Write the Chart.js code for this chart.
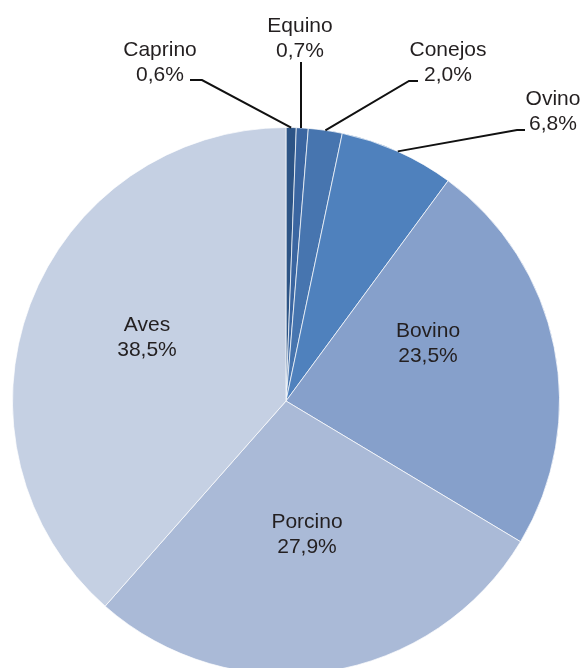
<!DOCTYPE html>
<html>
<head>
<meta charset="utf-8">
<script src="https://cdn.jsdelivr.net/npm/chart.js@4/dist/chart.umd.min.js"></script>
<style>
  html, body { margin: 0; padding: 0; background: #fff; overflow: hidden; }
  canvas { display: block; }
</style>
</head>
<body>
<canvas id="grafico" width="583" height="700"></canvas>
<script>
// datos (porcentaje por especie)
const especies = ['Caprino', 'Equino', 'Conejos', 'Ovino', 'Bovino', 'Porcino', 'Aves'];
const porcentajes = [0.6, 0.7, 2.0, 6.8, 23.5, 27.9, 38.5];
const etiquetas = ['0,6%', '0,7%', '2,0%', '6,8%', '23,5%', '27,9%', '38,5%'];

const colores = ['#2d5486', '#3b66a1', '#4775af', '#4f81bd', '#86a0cb', '#aabad7', '#c5d0e3'];

// posición de los textos respecto al centro del pastel (línea base del primer renglón)
// y recodo de la línea guía para las porciones pequeñas
const posEtiquetas = [
  { dx: -126, dy: -345, codo: [-84, -321], fin: [-96, -321] },
  { dx: 14, dy: -369, codo: [15, -339], fin: [15, -339], vertical: true },
  { dx: 162, dy: -345, codo: [123, -320], fin: [132, -320] },
  { dx: 267, dy: -296, codo: [231, -271], fin: [239, -271] },
  { dx: 142, dy: -64 },
  { dx: 21, dy: 127 },
  { dx: -139, dy: -70 }
];

const etiquetasPlugin = {
  id: 'etiquetas',
  afterDatasetsDraw(chart) {
    const ctx = chart.ctx;
    const arcs = chart.getDatasetMeta(0).data;
    ctx.save();
    ctx.font = '21px "Liberation Sans", Arial, sans-serif';
    ctx.fillStyle = '#231f20';
    ctx.textAlign = 'center';
    ctx.textBaseline = 'alphabetic';
    arcs.forEach((arc, i) => {
      const p = arc.getProps(['x', 'y', 'startAngle', 'endAngle', 'outerRadius'], true);
      const pos = posEtiquetas[i];
      if (pos.codo) {
        const mid = (p.startAngle + p.endAngle) / 2;
        let sx = p.x + Math.cos(mid) * p.outerRadius;
        const sy = p.y + Math.sin(mid) * p.outerRadius;
        if (pos.vertical) sx = p.x + pos.codo[0];
        ctx.beginPath();
        ctx.strokeStyle = '#111';
        ctx.lineWidth = 2;
        ctx.moveTo(sx, sy);
        ctx.lineTo(p.x + pos.codo[0], p.y + pos.codo[1]);
        ctx.lineTo(p.x + pos.fin[0], p.y + pos.fin[1]);
        ctx.stroke();
      }
      ctx.fillText(especies[i], p.x + pos.dx, p.y + pos.dy);
      ctx.fillText(etiquetas[i], p.x + pos.dx, p.y + pos.dy + 25);
    });
    ctx.restore();
  }
};

new Chart(document.getElementById('grafico'), {
  type: 'pie',
  data: {
    labels: especies,
    datasets: [{
      data: porcentajes,
      backgroundColor: colores,
      borderColor: 'rgba(255,255,255,0.7)',
      borderWidth: 1
    }]
  },
  options: {
    responsive: false,
    animation: false,
    layout: { padding: { left: 12, right: 23, top: 127, bottom: 25 } },
    plugins: {
      legend: { display: false },
      tooltip: { enabled: false }
    }
  },
  plugins: [etiquetasPlugin]
});
</script>
</body>
</html>
